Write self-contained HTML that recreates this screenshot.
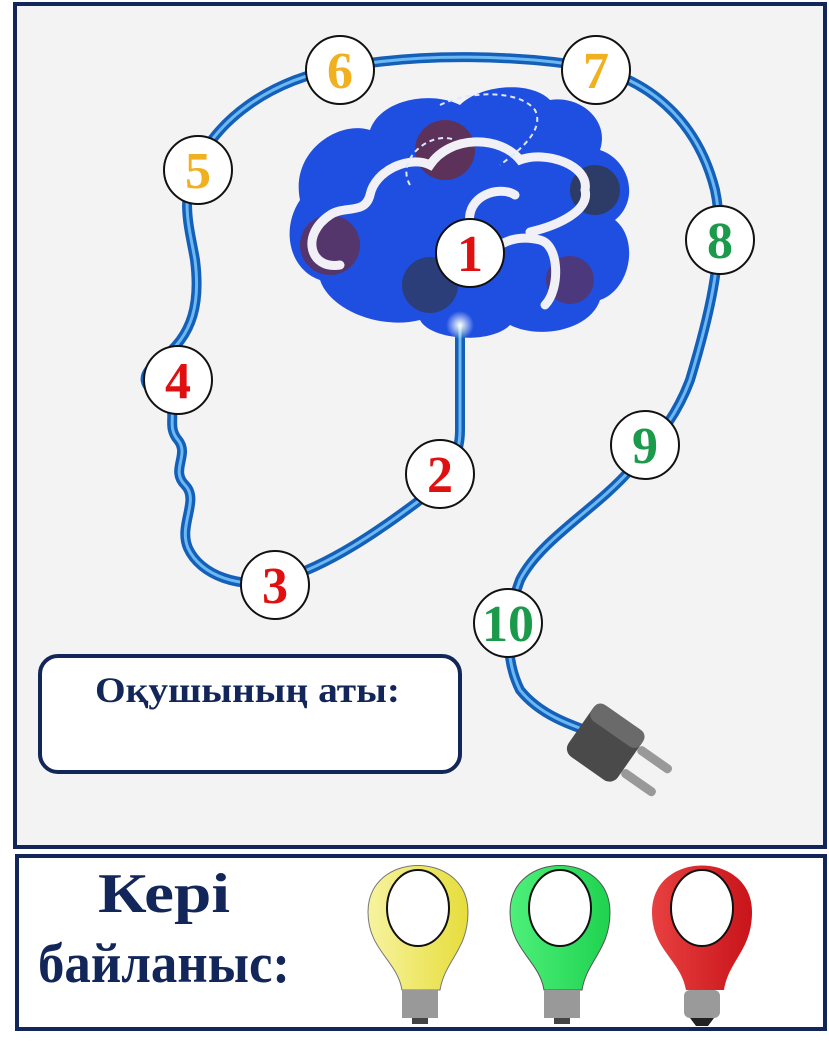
<!DOCTYPE html>
<html><head><meta charset="utf-8"><style>
body{margin:0;width:829px;height:1043px;background:#fff;overflow:hidden;font-family:"Liberation Serif",serif}
</style></head><body>
<svg width="829" height="1043" viewBox="0 0 829 1043" xmlns="http://www.w3.org/2000/svg">
<defs>
<radialGradient id="glow"><stop offset="0" stop-color="#fff"/><stop offset="1" stop-color="#fff" stop-opacity="0"/></radialGradient>
<linearGradient id="gry" x1="0" x2="1"><stop offset="0" stop-color="#f7f3a0"/><stop offset="1" stop-color="#e6dd3a"/></linearGradient>
<linearGradient id="grg" x1="0" x2="1"><stop offset="0" stop-color="#4df07a"/><stop offset="1" stop-color="#1fd24f"/></linearGradient>
<linearGradient id="grr" x1="0" x2="1"><stop offset="0" stop-color="#e84040"/><stop offset="1" stop-color="#c8141a"/></linearGradient>
</defs>
<rect x="15" y="4" width="810" height="843" fill="#f3f3f4" stroke="#13265a" stroke-width="4"/>
<rect x="17" y="856" width="808" height="173" fill="#fff" stroke="#13265a" stroke-width="4"/>
<!-- brain -->
<g>
<path d="M300,200 C290,150 340,120 370,130 C380,100 430,90 460,105 C480,85 530,80 550,100 C580,95 610,120 600,150 C630,160 640,200 615,220 C640,240 630,290 600,300 C590,330 540,340 510,325 C490,345 430,340 420,320 C380,330 330,310 320,280 C290,270 280,230 300,200Z" fill="#1f4fe0"/>
<circle cx="330" cy="245" r="30" fill="#6b2b3a" opacity=".7"/>
<circle cx="445" cy="150" r="30" fill="#6b2b3a" opacity=".8"/>
<circle cx="595" cy="190" r="25" fill="#333" opacity=".7"/>
<circle cx="430" cy="285" r="28" fill="#333" opacity=".6"/>
<circle cx="570" cy="280" r="24" fill="#6b2b3a" opacity=".6"/>
<path d="M340,265 C310,270 300,235 330,215 C345,205 365,215 370,195 C375,170 410,155 430,165 C450,135 500,135 520,160 C545,150 590,165 585,190 C590,210 560,225 530,232 M470,225 C465,195 500,185 515,195 M490,255 C500,240 520,235 540,240 C560,245 560,290 545,305" fill="none" stroke="#f0f0f6" stroke-width="9" stroke-linecap="round"/>
<path d="M440,105 C470,90 520,90 535,110 C545,130 520,150 500,165 M410,185 C395,160 430,130 455,140" fill="none" stroke="#dfe8ff" stroke-width="2" stroke-dasharray="5 4"/>
</g>
<!-- wire -->
<path d="M460,325 L460,430 C460,460 445,480 420,500 C380,530 330,565 280,580 C240,590 200,575 188,548 C178,525 200,500 185,485 C170,470 190,455 178,440 C165,425 180,410 165,400 C140,385 140,375 160,360 C195,335 200,300 195,260 C190,230 180,200 195,170 C215,120 270,80 340,68 C420,52 520,55 596,68 C660,85 700,130 715,190 C728,250 705,330 690,380 C675,420 655,440 630,470 C595,510 540,540 520,580 C505,620 505,660 520,690 C540,715 570,725 600,735" fill="none" stroke="#1460b8" stroke-width="10" stroke-linecap="round"/>
<path d="M460,325 L460,430 C460,460 445,480 420,500 C380,530 330,565 280,580 C240,590 200,575 188,548 C178,525 200,500 185,485 C170,470 190,455 178,440 C165,425 180,410 165,400 C140,385 140,375 160,360 C195,335 200,300 195,260 C190,230 180,200 195,170 C215,120 270,80 340,68 C420,52 520,55 596,68 C660,85 700,130 715,190 C728,250 705,330 690,380 C675,420 655,440 630,470 C595,510 540,540 520,580 C505,620 505,660 520,690 C540,715 570,725 600,735" fill="none" stroke="#6cb8f2" stroke-width="3"/>
<circle cx="460" cy="325" r="14" fill="url(#glow)"/>
<!-- plug -->
<g transform="translate(610,745) rotate(35)">
<rect x="-35" y="-30" width="60" height="62" rx="10" fill="#4a4a4a"/>
<rect x="-35" y="-30" width="60" height="20" rx="8" fill="#6a6a6a"/>
<rect x="25" y="-18" width="40" height="9" rx="4" fill="#999"/>
<rect x="25" y="10" width="40" height="9" rx="4" fill="#999"/>
</g>
<!-- number circles -->
<g stroke="#111" stroke-width="2" fill="#fff">
<circle cx="470" cy="253" r="34"/>
<circle cx="440" cy="474" r="34"/>
<circle cx="275" cy="585" r="34"/>
<circle cx="178" cy="380" r="34"/>
<circle cx="198" cy="170" r="34"/>
<circle cx="340" cy="70" r="34"/>
<circle cx="596" cy="70" r="34"/>
<circle cx="720" cy="240" r="34"/>
<circle cx="645" cy="445" r="34"/>
<circle cx="508" cy="623" r="34"/>
</g>
<g font-family="Liberation Serif,serif" font-weight="bold" font-size="52" text-anchor="middle">
<text x="470" y="271" fill="#e01010">1</text>
<text x="440" y="492" fill="#e01010">2</text>
<text x="275" y="603" fill="#e01010">3</text>
<text x="178" y="398" fill="#e01010">4</text>
<text x="198" y="188" fill="#f0b020">5</text>
<text x="340" y="88" fill="#f0b020">6</text>
<text x="596" y="88" fill="#f0b020">7</text>
<text x="720" y="258" fill="#1a9a4a">8</text>
<text x="645" y="463" fill="#1a9a4a">9</text>
<text x="508" y="641" fill="#1a9a4a">10</text>
</g>
<!-- name box -->
<rect x="40" y="656" width="420" height="116" rx="18" fill="#fff" stroke="#13265a" stroke-width="4"/>
<text x="95" y="702" textLength="305" lengthAdjust="spacingAndGlyphs" font-size="36" font-weight="bold" fill="#13265a">Оқушының аты:</text>
<!-- bottom -->
<text x="98" y="912" textLength="132" lengthAdjust="spacingAndGlyphs" font-size="56" font-weight="bold" fill="#13265a">Кері</text>
<text x="38" y="982" textLength="252" lengthAdjust="spacingAndGlyphs" font-size="56" font-weight="bold" fill="#13265a">байланыс:</text>
<g>
<path d="M368,912 C368,850 468,850 468,912 C468,950 445,960 440,990 L402,990 C397,960 368,950 368,912Z" fill="url(#gry)" stroke="#777" stroke-width="1"/>
<ellipse cx="418" cy="908" rx="31" ry="38" fill="#fff" stroke="#111" stroke-width="2"/>
<rect x="402" y="990" width="36" height="28" fill="#999"/><rect x="412" y="1018" width="16" height="6" fill="#444"/>
<path d="M510,912 C510,850 610,850 610,912 C610,950 587,960 582,990 L544,990 C539,960 510,950 510,912Z" fill="url(#grg)" stroke="#555" stroke-width="1"/>
<ellipse cx="560" cy="908" rx="31" ry="38" fill="#fff" stroke="#111" stroke-width="2"/>
<rect x="544" y="990" width="36" height="28" fill="#999"/><rect x="554" y="1018" width="16" height="6" fill="#444"/>
<path d="M652,912 C652,850 752,850 752,912 C752,950 729,960 724,990 L686,990 C681,960 652,950 652,912Z" fill="url(#grr)"/>
<ellipse cx="702" cy="908" rx="31" ry="38" fill="#fff" stroke="#111" stroke-width="2"/>
<rect x="684" y="990" width="36" height="28" rx="6" fill="#9a9a9a"/><path d="M690,1018 L714,1018 L708,1026 L696,1026Z" fill="#222"/>
</g>
</svg>
</body></html>
